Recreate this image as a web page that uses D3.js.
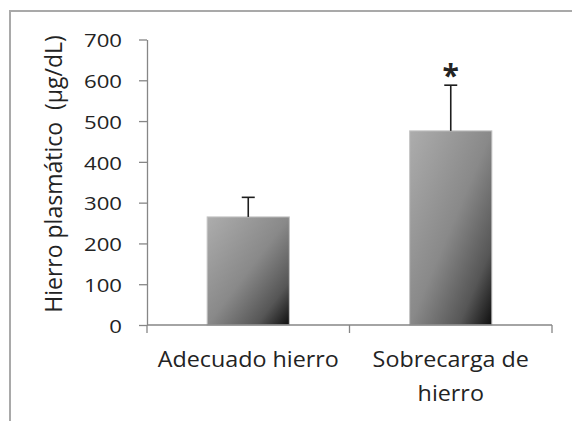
<!DOCTYPE html>
<html>
<head>
<meta charset="utf-8">
<script src="https://cdn.jsdelivr.net/npm/d3@7"></script>
<style>
  html, body { margin: 0; padding: 0; background: #fff; }
  svg { display: block; }
  text { font-family: "Open Sans", sans-serif; fill: #232323; }
</style>
</head>
<body>
<svg id="chart" width="572" height="421"></svg>
<script>
// Plasma iron by diet group (mean + SD)
const categories = ["Adecuado hierro", "Sobrecarga de hierro"];
const categoryLines = [["Adecuado hierro"], ["Sobrecarga de", "hierro"]];
const means = [265, 476];
const errors = [48, 112];
const significant = [false, true];
const yTicks = [0, 100, 200, 300, 400, 500, 600, 700];
const yTitle = "Hierro plasmático  (µg/dL)";

const svg = d3.select("#chart");
const W = 572, H = 421;
const m = { left: 147, right: 20, top: 39.5, bottom: 96 };

// outer chart-area frame (open at the right and bottom)
svg.append("path")
  .attr("d", `M10,${H} V11 H${W}`)
  .attr("fill", "none")
  .attr("stroke", "#a9a9a9")
  .attr("stroke-width", 2);

const defs = svg.append("defs");
const grad = defs.append("linearGradient")
  .attr("id", "barFill")
  .attr("x1", 0).attr("y1", 0).attr("x2", 1).attr("y2", 1);
grad.append("stop").attr("offset", "0%").attr("stop-color", "#adadad");
grad.append("stop").attr("offset", "50%").attr("stop-color", "#898989");
grad.append("stop").attr("offset", "80%").attr("stop-color", "#565656");
grad.append("stop").attr("offset", "100%").attr("stop-color", "#0e0e0e");

const x = d3.scaleBand()
  .domain(categories)
  .range([m.left, W - m.right])
  .paddingInner(0.594)
  .paddingOuter(0.297);

const y = d3.scaleLinear()
  .domain([0, 700])
  .range([H - m.bottom, m.top]);

const axisColor = "#868686";

// y axis
const yAxis = svg.append("g")
  .attr("transform", `translate(${m.left},0)`)
  .call(d3.axisLeft(y).tickValues(yTicks).tickSize(8).tickSizeOuter(0).tickFormat(d3.format("d")));
yAxis.select(".domain").attr("stroke", axisColor).attr("stroke-width", 1.3);
yAxis.selectAll(".tick line").attr("stroke", axisColor).attr("stroke-width", 1.3);
yAxis.selectAll(".tick text")
  .attr("x", null)
  .attr("dy", null)
  .attr("dominant-baseline", "central")
  .attr("transform", "translate(-25,0) scale(1.2,1)")
  .attr("font-size", 18.5)
  .attr("fill", "#232323");

// bars
const bars = svg.append("g");
bars.selectAll("rect")
  .data(categories)
  .join("rect")
  .attr("x", d => x(d))
  .attr("width", x.bandwidth())
  .attr("y", (d, i) => y(means[i]))
  .attr("height", (d, i) => y(0) - y(means[i]))
  .attr("fill", "url(#barFill)")
  .attr("stroke", "#c4c4c4")
  .attr("stroke-width", 1);

// x axis (drawn over bar bottoms)
const xAxisG = svg.append("g").attr("transform", `translate(0,${y(0)})`);
xAxisG.append("line")
  .attr("x1", m.left).attr("x2", W - m.right)
  .attr("stroke", axisColor).attr("stroke-width", 1.3);
const xBounds = [m.left, ...categories.slice(1).map(c => x(c) - x.step() * x.paddingInner() / 2), W - m.right];
xAxisG.selectAll("line.tk")
  .data(xBounds)
  .join("line")
  .attr("class", "tk")
  .attr("x1", d => d).attr("x2", d => d)
  .attr("y1", 0).attr("y2", 8)
  .attr("stroke", axisColor).attr("stroke-width", 1.3);

// category labels
categories.forEach((c, i) => {
  const cx = x(c) + x.bandwidth() / 2;
  const t = svg.append("text")
    .attr("text-anchor", "middle")
    .attr("font-size", 21)
    .attr("transform", `translate(${cx},367) scale(1.11,1)`);
  categoryLines[i].forEach((line, j) => {
    t.append("tspan").attr("x", 0).attr("y", j * 34).text(line);
  });
});

// error bars (upper only)
const err = svg.append("g").attr("stroke", "#1e1e1e").attr("stroke-width", 1.6);
categories.forEach((c, i) => {
  const cx = x(c) + x.bandwidth() / 2;
  err.append("line")
    .attr("x1", cx).attr("x2", cx)
    .attr("y1", y(means[i])).attr("y2", y(means[i] + errors[i]));
  err.append("line")
    .attr("x1", cx - 6.5).attr("x2", cx + 6.5)
    .attr("y1", y(means[i] + errors[i])).attr("y2", y(means[i] + errors[i]));
});

// significance marker
categories.forEach((c, i) => {
  if (!significant[i]) return;
  const cx = x(c) + x.bandwidth() / 2;
  svg.append("text")
    .attr("x", cx)
    .attr("y", y(means[i] + errors[i]) + 1)
    .attr("text-anchor", "middle")
    .attr("font-size", 30)
    .attr("font-weight", "bold")
    .attr("fill", "#2a2a2a")
    .text("*");
});

// y axis title
svg.append("text")
  .attr("transform", `translate(62,${(36 + 312) / 2}) rotate(-90)`)
  .attr("text-anchor", "middle")
  .attr("font-size", 23)
  .style("white-space", "pre")
  .text(yTitle);
</script>
</body>
</html>
